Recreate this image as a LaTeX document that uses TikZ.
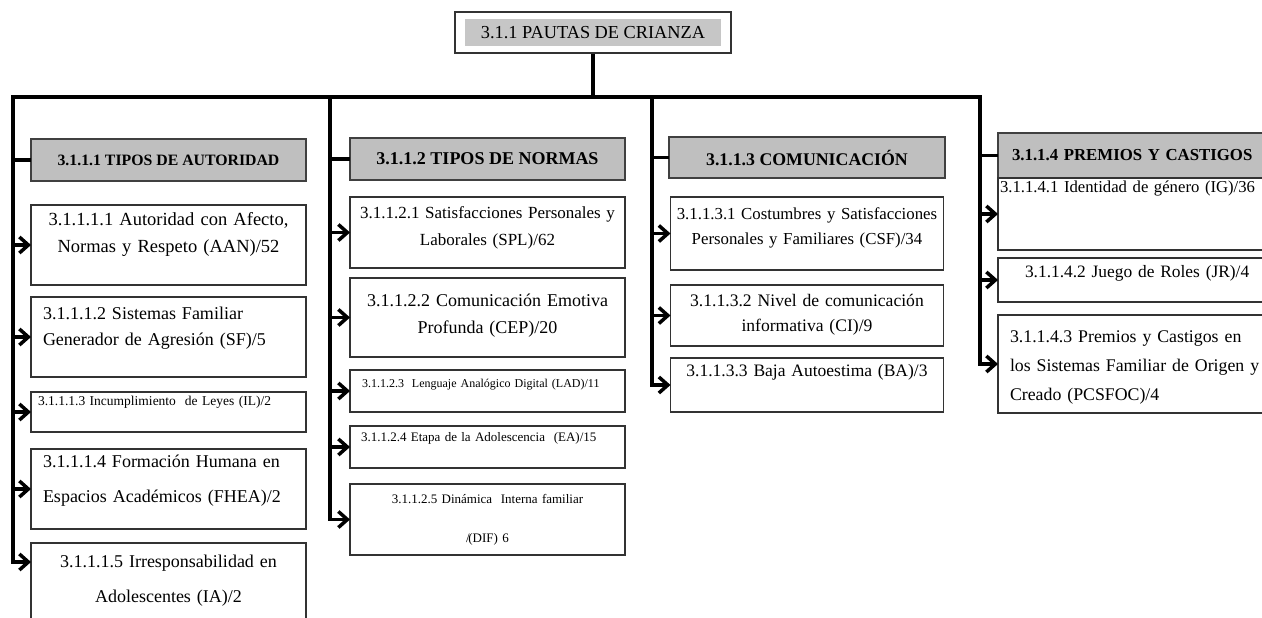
\documentclass[tikz,border=0pt]{standalone}
\usepackage{fontspec}
\setmainfont{Liberation Serif}
\usetikzlibrary{positioning}
\usetikzlibrary{arrows.meta}

\tikzset{
  rama/.style={line width=3.5pt},
  flecha/.style={line width=3.5pt,->},
  letra/.style n args={2}{font=\fontsize{#1}{#2}\selectfont},
  titulo/.style={draw=black!75,line width=1.2pt,fill=gray!50,inner sep=0pt,outer sep=0pt,minimum width=#1,minimum height=42pt},
  titulo/.default=275pt,
  caja/.style={draw=black!80,line width=1.2pt,fill=white,inner ysep=0pt,inner xsep=2pt,outer sep=0pt,text width=#1-4pt,align=center},
  caja/.default=275pt,
  izq/.style={inner xsep=12pt,text width=#1-24pt,align=left},
  izq/.default=275pt
}

\begin{document}
\begin{tikzpicture}[x=1pt,y=-1pt,>={Straight Barb[length=9pt,width=16pt]}]
\useasboundingbox (0,0) rectangle (1262,618);
\clip (0,0) rectangle (1262,618);

%raiz
\path node[draw=black!80,line width=1.2pt,fill=white,minimum width=276pt,minimum height=41pt] (marco) at (593,32.5) {};
\path node[fill=gray!45,inner sep=0pt,minimum width=256pt,minimum height=27pt,letra={18.3}{22}] (raiz) at (marco) {3.1.1 PAUTAS DE CRIANZA};

\coordinate (bus1) at (13,97);
\coordinate (bus2) at (330,97);
\coordinate (bus3) at (652,97);
\coordinate (bus4) at (980,97);
\path[draw,rama] (marco.south) -- (marco.south |- bus1);
\path[draw,rama,line cap=rect] (bus1) -- (bus4);

%encabezados
\path node[titulo,font=\bfseries\fontsize{15.8}{19}\selectfont] (t1) at (168.5,160) {3.1.1.1 TIPOS DE AUTORIDAD};
\path node[titulo,font=\bfseries\fontsize{18}{22}\selectfont] (t2) at (487.5,159) {3.1.1.2 TIPOS DE NORMAS};
\path node[titulo=276pt,minimum height=41pt,font=\bfseries\fontsize{17.8}{22}\selectfont] (t3) at (807,157.5) {3.1.1.3 COMUNICACIÓN};
\path node[titulo=300pt,minimum height=45pt,inner xsep=14pt,text width=272pt,align=left,font=\bfseries\fontsize{16.8}{20}\selectfont] (t4) at (1148,155.5) {3.1.1.4 PREMIOS Y CASTIGOS};

%autoridad
\path node[caja,below=24pt of t1,letra={18.5}{27},text height=20.1pt,text depth=59.9pt] (au1) {3.1.1.1.1 Autoridad con Afecto,\\ Normas y Respeto (AAN)/52};
\path node[caja,izq,below=12pt of au1,letra={18}{26},text height=22.8pt,text depth=57.2pt] (au2) {3.1.1.1.2 Sistemas Familiar\\ Generador de Agresión (SF)/5};
\path node[caja,izq,inner xsep=7pt,text width=261pt,below=15pt of au2,letra={13.5}{16},text height=13.8pt,text depth=26.2pt] (au3) {3.1.1.1.3 Incumplimiento~ de Leyes (IL)/2};
\path node[caja,izq,below=17pt of au3,letra={18}{35},text height=18.8pt,text depth=61.2pt] (au4) {3.1.1.1.4 Formación Humana en\\ Espacios Académicos (FHEA)/2};
\path node[caja,below=14pt of au4,letra={18}{35},text height=24.8pt,text depth=65.2pt] (au5) {3.1.1.1.5 Irresponsabilidad en\\ Adolescentes (IA)/2};

%normas
\path node[caja,below=17pt of t2,letra={17}{27},text height=21.1pt,text depth=49.9pt] (no1) {3.1.1.2.1 Satisfacciones Personales y\\ Laborales (SPL)/62};
\path node[caja,below=10pt of no1,letra={18}{27},text height=28.8pt,text depth=50.2pt] (no2) {3.1.1.2.2 Comunicación Emotiva\\ Profunda (CEP)/20};
\path node[caja,izq,below=13pt of no2,letra={12}{15},text height=17.9pt,text depth=24.1pt] (no3) {3.1.1.2.3~ Lenguaje Analógico Digital (LAD)/11};
\path node[caja,izq,inner xsep=11pt,text width=253pt,below=14pt of no3,letra={13}{16},text height=15.6pt,text depth=26.4pt] (no4) {3.1.1.2.4 Etapa de la Adolescencia~ (EA)/15};
\path node[caja,below=16pt of no4,letra={13}{39},text height=19.5pt,text depth=51.5pt] (no5) {3.1.1.2.5 Dinámica~ Interna familiar\\ /\kern-1.5pt(DIF) 6};

%comunicacion
\path node[caja=273pt,below=19pt of t3,letra={16.8}{25},text height=22pt,text depth=51pt] (co1) {3.1.1.3.1 Costumbres y Satisfacciones\\ Personales y Familiares (CSF)/34};
\path node[caja=273pt,below=15pt of co1,letra={17.6}{25},text height=21.5pt,text depth=39.5pt] (co2) {3.1.1.3.2 Nivel de comunicación\\ informativa (CI)/9};
\path node[caja=273pt,below=12pt of co2,letra={17.5}{22},text height=18.5pt,text depth=35.5pt] (co3) {3.1.1.3.3 Baja Autoestima (BA)/3};

%premios
\path node[caja=300pt,align=left,below=0pt of t4,letra={16.7}{21},text height=14pt,text depth=58pt] (pr1) {3.1.1.4.1 Identidad de género (IG)/36};
\path node[caja=300pt,izq=300pt,inner xsep=27pt,text width=246pt,below=8pt of pr1,letra={17.4}{22},text height=19.4pt,text depth=24.6pt] (pr2) {3.1.1.4.2 Juego de Roles (JR)/4};
\path node[caja=300pt,izq=300pt,below=13pt of pr2,letra={17.8}{29},text height=27.7pt,text depth=70.3pt] (pr3) {3.1.1.4.3 Premios y Castigos en\\ los Sistemas Familiar de Origen y\\ Creado (PCSFOC)/4};

%lineas
\path[draw,rama] (bus1 |- t1.west) -- (t1.west);
\path[draw,rama] (bus2 |- t2.west) -- (t2.west);
\path[draw,rama] (bus3 |- t3.west) -- (t3.west);
\path[draw,rama] (bus4 |- t4.west) -- (t4.west);
\path[draw,flecha] (bus1) |- ([yshift=-19pt]au5.north west);
\path[draw,flecha] (bus2) |- (no5.west);
\path[draw,flecha] (bus3) |- (co3.west);
\path[draw,flecha] (bus4) |- (pr3.west);
\path[flecha] (bus1 |- au1.west) edge (au1.west) (bus1 |- au2.west) edge (au2.west)
  (bus1 |- au3.west) edge (au3.west) (bus1 |- au4.west) edge (au4.west);
\path[flecha] (bus2 |- no1.west) edge (no1.west) (bus2 |- no2.west) edge (no2.west)
  (bus2 |- no3.west) edge (no3.west) (bus2 |- no4.west) edge (no4.west);
\path[flecha] (bus3 |- co1.west) edge (co1.west) (bus3 |- co2.west) edge (co2.west);
\path[flecha] (bus4 |- pr1.west) edge (pr1.west) (bus4 |- pr2.west) edge (pr2.west);
\end{tikzpicture}
\end{document}
